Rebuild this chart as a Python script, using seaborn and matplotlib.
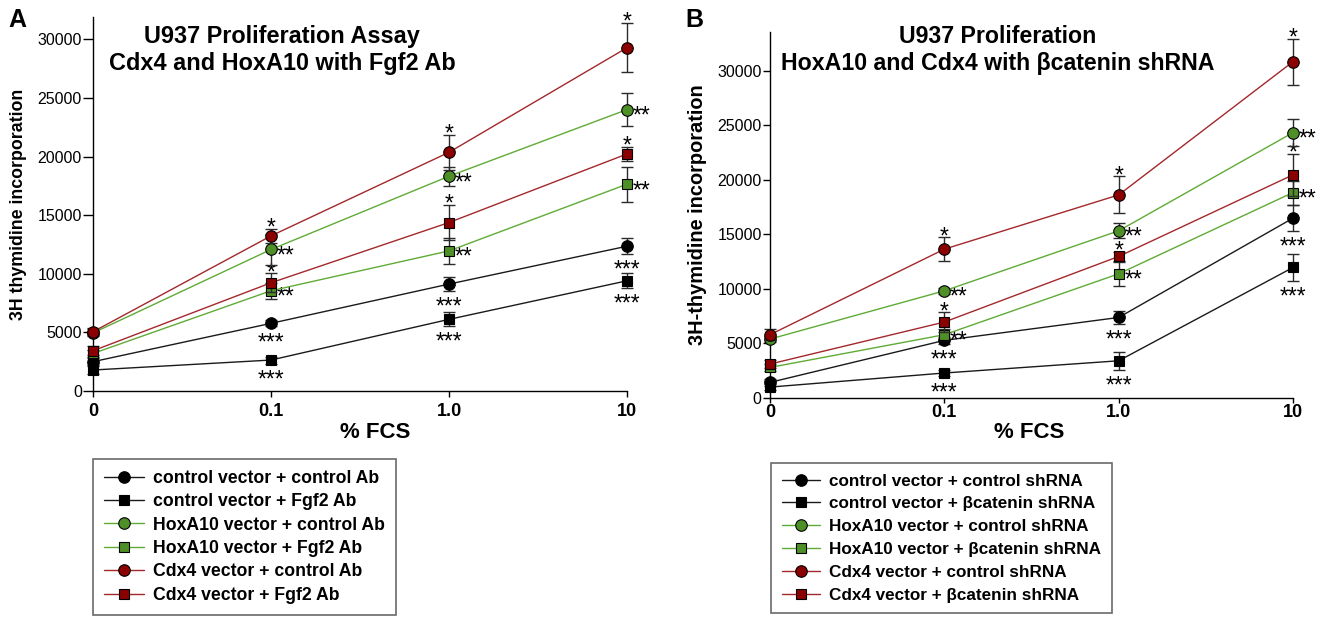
import seaborn as sns
import matplotlib.pyplot as plt
import pandas as pd
from matplotlib.lines import Line2D

# x categories (% FCS)
fcs = ["0", "0.1", "1.0", "10"]

# Panel A: Fgf2 antibody
a_labels = ["control vector + control Ab", "control vector + Fgf2 Ab",
            "HoxA10 vector + control Ab", "HoxA10 vector + Fgf2 Ab",
            "Cdx4 vector + control Ab", "Cdx4 vector + Fgf2 Ab"]
a_ctrl_ctrl = [2500, 5770, 9120, 12350]
a_ctrl_fgf2 = [1790, 2640, 6110, 9400]
a_hox_ctrl = [4950, 12070, 18320, 24000]
a_hox_fgf2 = [3200, 8550, 11950, 17640]
a_cdx_ctrl = [5050, 13230, 20360, 29280]
a_cdx_fgf2 = [3430, 9230, 14370, 20220]
a_err_ctrl_ctrl = [300, 250, 600, 700]
a_err_ctrl_fgf2 = [300, 300, 600, 650]
a_err_hox_ctrl = [300, 1300, 800, 1400]
a_err_hox_fgf2 = [300, 700, 1100, 1500]
a_err_cdx_ctrl = [300, 600, 1500, 2100]
a_err_cdx_fgf2 = [400, 800, 1500, 600]

# Panel B: beta-catenin shRNA
b_labels = ["control vector + control shRNA", "control vector + \u03b2catenin shRNA",
            "HoxA10 vector + control shRNA", "HoxA10 vector + \u03b2catenin shRNA",
            "Cdx4 vector + control shRNA", "Cdx4 vector + \u03b2catenin shRNA"]
b_ctrl_ctrl = [1430, 5280, 7380, 16480]
b_ctrl_bcat = [1000, 2290, 3410, 11960]
b_hox_ctrl = [5400, 9820, 15320, 24320]
b_hox_bcat = [2800, 5800, 11380, 18830]
b_cdx_ctrl = [5800, 13640, 18610, 30820]
b_cdx_bcat = [3110, 6960, 12970, 20450]
b_err_ctrl_ctrl = [300, 300, 600, 1200]
b_err_ctrl_bcat = [300, 300, 850, 1250]
b_err_hox_ctrl = [300, 300, 700, 1250]
b_err_hox_bcat = [300, 500, 1100, 1100]
b_err_cdx_ctrl = [500, 1100, 1700, 2100]
b_err_cdx_bcat = [400, 900, 400, 1900]

# significance marks (same for every dose > 0)
stars = ["***", "***", "**", "**", "*", "*"]
star_side = ["below", "below", "right", "right", "above", "above"]

markers = ["o", "s", "o", "s", "o", "s"]
fills = ["black", "black", "#4f8f27", "#4f8f27", "#8b0000", "#8b0000"]
lines = ["#1a1a1a", "#1a1a1a", "#5fab36", "#5fab36", "#a3282c", "#a3282c"]

sns.set_theme(style="ticks")
plt.rcParams["font.family"] = ["Liberation Sans", "DejaVu Sans"]
plt.rcParams.update({"text.color": "black", "axes.labelcolor": "black",
                     "xtick.color": "black", "ytick.color": "black",
                     "axes.edgecolor": "black"})

W, H = 1331, 617
fig = plt.figure(figsize=(W / 100, H / 100), dpi=100)


def px_axes(left, top, right, bottom):
    return fig.add_axes([left / W, 1 - bottom / H, (right - left) / W, (bottom - top) / H])


def draw_panel(ax, means, errs, labels, ymax):
    for i in range(len(means)):
        df = pd.DataFrame({"pos": range(len(fcs)), "val": means[i]})
        ax.errorbar(df["pos"], df["val"], yerr=errs[i], fmt="none", ecolor="#2b2b2b",
                    elinewidth=1, capsize=4, capthick=1, zorder=2 + 2 * i, clip_on=False)
        sns.lineplot(data=df, x="pos", y="val", ax=ax, color=lines[i], lw=1,
                     marker=markers[i], ms=8.3 if markers[i] == "o" else 7,
                     markerfacecolor=fills[i], markeredgecolor="black", markeredgewidth=0.8,
                     errorbar=None, zorder=3 + 2 * i, clip_on=False)
        fs = 16.5
        for j in range(1, len(fcs)):
            m, e = means[i][j], errs[i][j]
            if star_side[i] == "above":
                ax.annotate(stars[i], (j, m + e), xytext=(0, 5 - 0.56 * fs), textcoords="offset points",
                            ha="center", va="baseline", fontsize=fs)
            elif star_side[i] == "below":
                ax.annotate(stars[i], (j, m - max(e, 350)), xytext=(0, -7 - 0.56 * fs),
                            textcoords="offset points", ha="center", va="baseline", fontsize=fs)
            else:
                ax.annotate(stars[i], (j, m), xytext=(4, -0.56 * fs), textcoords="offset points",
                            ha="left", va="baseline", fontsize=fs)
    ax.set_xlim(0, len(fcs) - 1)
    ax.set_ylim(0, ymax)
    ax.set_xticks(range(len(fcs)))
    ax.set_xticklabels(fcs, fontweight="bold", fontsize=13)
    ax.set_yticks(range(0, 30001, 5000))
    ax.tick_params(axis="y", labelsize=11.5, width=1)
    ax.tick_params(axis="x", width=1)
    for s in ["left", "bottom"]:
        ax.spines[s].set_linewidth(1)
    sns.despine(ax=ax)
    ax.set_xlabel("% FCS", fontsize=16, fontweight="bold")


def legend_for(labels, x, y, size, spacing):
    handles = [Line2D([], [], color=lines[i], lw=1, marker=markers[i],
                      ms=8.3 if markers[i] == "o" else 7, markerfacecolor=fills[i],
                      markeredgecolor="black", markeredgewidth=0.8) for i in range(len(labels))]
    leg = fig.legend(handles, labels, loc="upper left", bbox_to_anchor=(x / W, 1 - y / H),
                     borderaxespad=0, fancybox=False, edgecolor="#6a6a6a", framealpha=1,
                     prop={"weight": "bold", "size": size}, handlelength=2.25,
                     handletextpad=0.55, labelspacing=spacing, borderpad=0.62)
    leg.get_frame().set_linewidth(1.2)


# Panel A
axA = px_axes(93, 17, 627, 391)
draw_panel(axA, [a_ctrl_ctrl, a_ctrl_fgf2, a_hox_ctrl, a_hox_fgf2, a_cdx_ctrl, a_cdx_fgf2],
           [a_err_ctrl_ctrl, a_err_ctrl_fgf2, a_err_hox_ctrl, a_err_hox_fgf2, a_err_cdx_ctrl, a_err_cdx_fgf2],
           a_labels, 31900)
axA.tick_params(axis="y", length=7, pad=1)
axA.tick_params(axis="x", length=4.5, pad=4)
axA.set_ylabel("3H thymidine incorporation", fontsize=12.8, fontweight="bold")
axA.yaxis.set_label_coords((27 - 93) / 534, 0.5)
axA.xaxis.set_label_coords((375 - 93) / 534, (391 - 422) / 374)
fig.text(282 / W, 1 - 50 / H, "U937 Proliferation Assay\nCdx4 and HoxA10 with Fgf2 Ab",
         ha="center", va="center", fontsize=16.9, fontweight="bold", linespacing=1.2)
fig.text(8 / W, 1 - 8 / H, "A", ha="left", va="top", fontsize=18, fontweight="bold")
legend_for(a_labels, 93, 459, 12.7, 0.36)

# Panel B
axB = px_axes(770, 32, 1293, 398)
draw_panel(axB, [b_ctrl_ctrl, b_ctrl_bcat, b_hox_ctrl, b_hox_bcat, b_cdx_ctrl, b_cdx_bcat],
           [b_err_ctrl_ctrl, b_err_ctrl_bcat, b_err_hox_ctrl, b_err_hox_bcat, b_err_cdx_ctrl, b_err_cdx_bcat],
           b_labels, 33540)
axB.tick_params(axis="y", length=5, pad=1)
axB.tick_params(axis="x", length=3.5, pad=1)
axB.set_ylabel("3H-thymidine incorporation", fontsize=14.4, fontweight="bold")
axB.yaxis.set_label_coords((707 - 770) / 523, 0.5)
axB.xaxis.set_label_coords(0.495, (398 - 422) / 366)
fig.text(998 / W, 1 - 50 / H, "U937 Proliferation\nHoxA10 and Cdx4 with \u03b2catenin shRNA",
         ha="center", va="center", fontsize=16.7, fontweight="bold", linespacing=1.2)
fig.text(685 / W, 1 - 8 / H, "B", ha="left", va="top", fontsize=18, fontweight="bold")
legend_for(b_labels, 771, 463, 12.3, 0.46)

fig.savefig("out.png", dpi=100)
